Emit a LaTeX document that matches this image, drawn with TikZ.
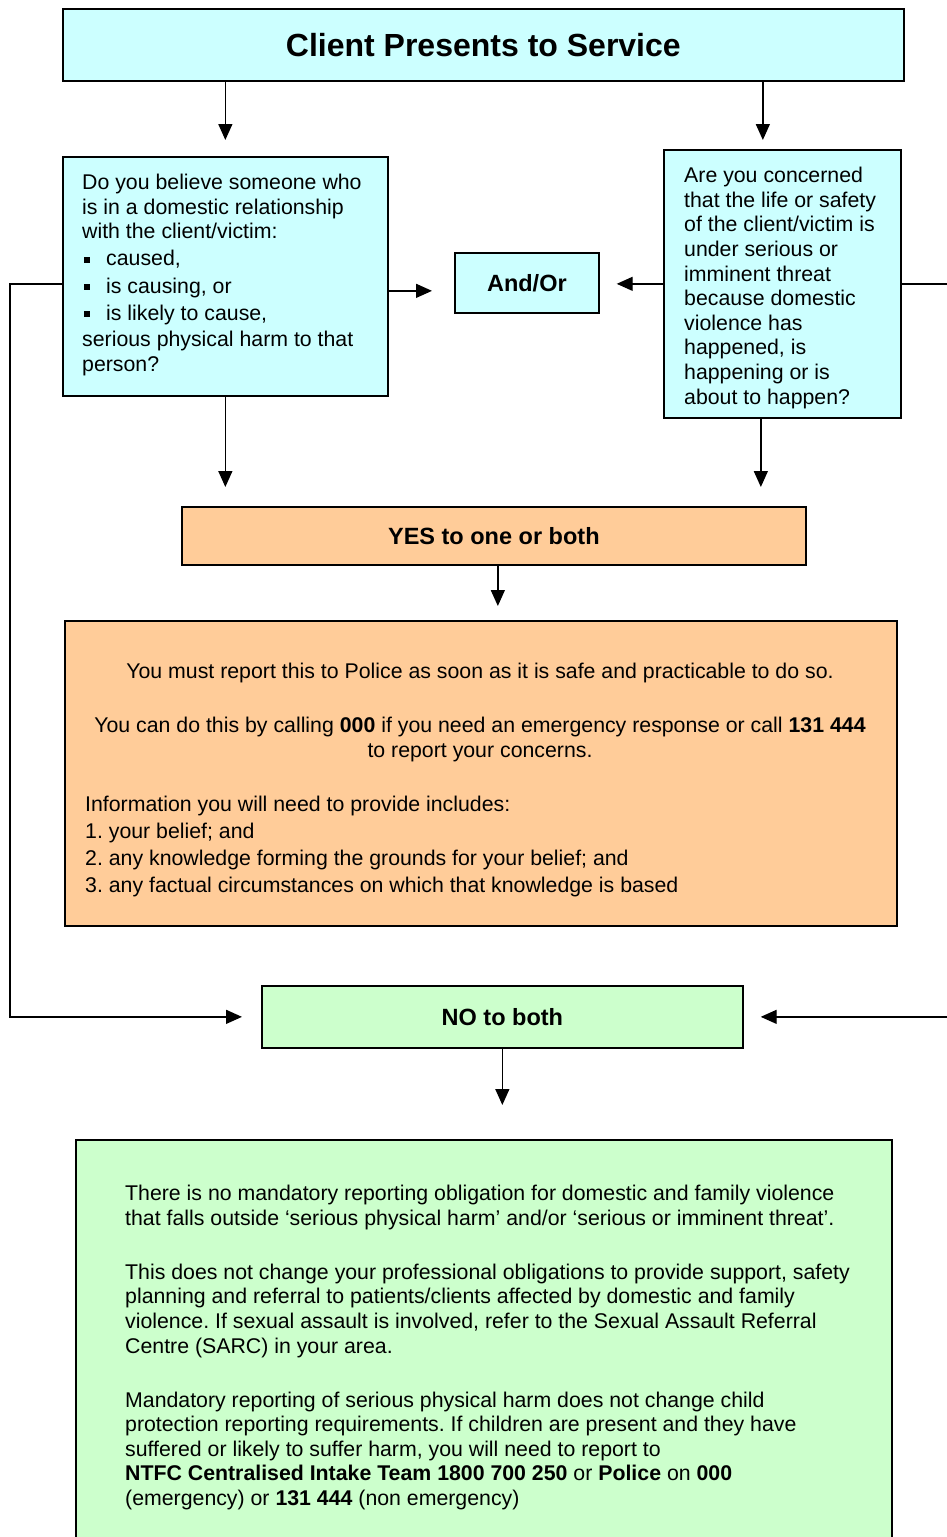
\documentclass[tikz,border=0pt]{standalone}
\usepackage{fontspec}
\setmainfont{Liberation Sans}
\usetikzlibrary{arrows.meta,calc}
\definecolor{cyanbox}{HTML}{CCFFFF}
\definecolor{orangebox}{HTML}{FFCC99}
\definecolor{greenbox}{HTML}{CCFFCC}
\newcommand{\bodyfont}{\fontsize{21.3}{24.6}\selectfont}
\newcommand{\labfont}{\fontsize{23.5}{27}\selectfont\bfseries}
\newcommand{\bulitem}{\makebox[24pt][l]{\hspace{2pt}\rule[3pt]{6pt}{6pt}}}
\frenchspacing
\begin{document}
\frenchspacing
\begin{tikzpicture}[x=1pt,y=-1pt,
  box/.style={draw=black, line width=1.7pt, inner sep=0pt, anchor=north west},
  txt/.style={inner sep=0pt, font=\bodyfont\frenchspacing},
  arr/.style={draw=black, line width=1.4pt, -{Triangle[length=16pt,width=14pt]}}]
\useasboundingbox (0,0) rectangle (947,1537);
\clip (0,0) rectangle (947,1537);

% boxes
\node[box, fill=cyanbox, minimum width=841pt, minimum height=72pt,
      font=\fontsize{32}{38}\selectfont\bfseries] (top) at (62,8) {Client Presents to Service};
\node[box, fill=cyanbox, minimum width=325pt, minimum height=239pt] (lq) at (62,156) {};
\node[box, fill=cyanbox, minimum width=237pt, minimum height=268pt] (rq) at (663,149) {};
\node[box, fill=cyanbox, minimum width=144pt, minimum height=60pt, font=\labfont] (andor) at (454,252) {And/Or};
\node[box, fill=orangebox, minimum width=624pt, minimum height=58pt, font=\labfont] (yes) at (181,506) {YES to one or both};
\node[box, fill=orangebox, minimum width=832pt, minimum height=305pt] (rep) at (64,620) {};
\node[box, fill=greenbox, minimum width=481pt, minimum height=62pt, font=\labfont] (no) at (261,985) {NO to both};
\node[box, fill=greenbox, minimum width=816pt, minimum height=500pt] (info) at (75,1139) {};

% texts
\node[txt, align=left, anchor=north west] (lqt) at (82,174) {Do you believe someone who\\
is in a domestic relationship\\
with the client/victim:\\[2.5pt]
\bulitem caused,\\[2.5pt]
\bulitem is causing, or\\[2.5pt]
\bulitem is likely to cause,\\[2pt]
serious physical harm to that\\
person?};

\node[txt, align=left, anchor=north west] (rqt) at (684,167) {Are you concerned\\
that the life or safety\\
of the client/victim is\\
under serious or\\
imminent threat\\
because domestic\\
violence has\\
happened, is\\
happening or is\\
about to happen?};

\node[txt, align=center, anchor=north] (rept1) at (480,663) {You must report this to Police as soon as it is safe and practicable to do so.\\[29.4pt]
You can do this by calling \textbf{000} if you need an emergency response or call \textbf{131 444}\\
to report your concerns.};
\node[txt, align=left, anchor=north west] (rept2) at (85,796) {Information you will need to provide includes:\\[2.4pt]
1. your belief; and\\[2.4pt]
2. any knowledge forming the grounds for your belief; and\\[2.4pt]
3. any factual circumstances on which that knowledge is based};

\node[txt, align=left, anchor=north west] (infot) at (125,1185) {There is no mandatory reporting obligation for domestic and family violence\\
that falls outside `serious physical harm' and/or `serious or imminent threat'.\\[29.4pt]
This does not change your professional obligations to provide support, safety\\
planning and referral to patients/clients affected by domestic and family\\
violence. If sexual assault is involved, refer to the Sexual Assault Referral\\
Centre (SARC) in your area.\\[29.4pt]
Mandatory reporting of serious physical harm does not change child\\
protection reporting requirements. If children are present and they have\\
suffered or likely to suffer harm, you will need to report to\\
\textbf{NTFC Centralised Intake Team 1800 700 250} or \textbf{Police} on \textbf{000}\\
(emergency) or \textbf{131 444} (non emergency)};

% connector anchors
\coordinate (rqin) at ([xshift=-19.5pt]rq.north);
\coordinate (rqout) at ([xshift=-21.5pt]rq.south);
\coordinate (la) at ([yshift=-14.5pt]lq.east);
\coordinate (lqleft) at ([yshift=-7.5pt]lq.west);
\coordinate (yesout) at ([xshift=4pt]yes.south);

% connectors
\draw[arr, shorten >=16pt] (top.south -| lq.north) -- (lq.north);
\draw[arr, shorten >=9pt] (top.south -| rqin) -- (rqin);
\draw[arr, shorten >=22pt] (la) -- (la -| andor.west);
\draw[arr, shorten >=17pt] (rq.west) -- (rq.west -| andor.east);
\draw[arr, shorten >=19pt] (lq.south) -- (lq.south |- yes.north);
\draw[arr, shorten >=19pt] (rqout) -- (rqout |- yes.north);
\draw[arr, shorten >=14pt] (yesout) -- (yesout |- rep.north);
\draw[arr, shorten >=19pt] (lqleft) -- ++(-52,0) |- (no.west);
\draw[arr, shorten >=17pt] (rq.east) -- ++(70,0) |- (no.east);
\draw[arr, shorten >=34pt] (no.south) -- (no.south |- info.north);
\end{tikzpicture}
\end{document}
